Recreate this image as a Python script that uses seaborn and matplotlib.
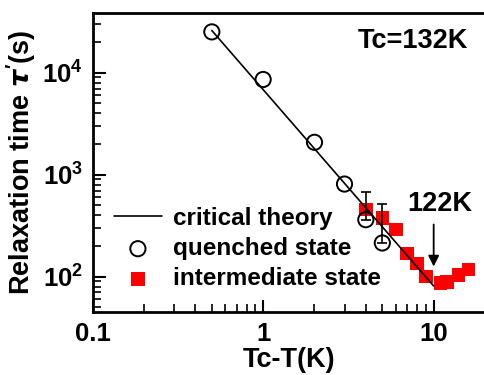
import matplotlib
matplotlib.use("Agg")
import matplotlib.pyplot as plt
import matplotlib.ticker as mticker
import seaborn as sns
import numpy as np

# data
theory_x = [0.5, 10]
theory_y = [26000, 81]

quenched_x = [0.5, 1, 2, 3, 4, 5]
quenched_y = [25200, 8600, 2080, 810, 362, 214]
# upper error bars only for the last two quenched points
err_x = [4, 5]
err_y = [362, 214]
err_up = [308, 306]
err_low = [0, 0]

inter_x = [4, 5, 6, 7, 8, 9, 11, 12, 14, 16]
inter_y = [454, 376, 289, 168, 135, 100, 87, 89, 104, 118]

sns.set_style("ticks", {'text.color': 'black', 'axes.labelcolor': 'black',
                        'xtick.color': 'black', 'ytick.color': 'black',
                        'axes.edgecolor': 'black'})
plt.rcParams['font.family'] = ['Liberation Sans', 'DejaVu Sans']
plt.rcParams['font.weight'] = 'bold'
plt.rcParams['mathtext.fontset'] = 'custom'
plt.rcParams['mathtext.bf'] = 'Liberation Sans:bold'
plt.rcParams['mathtext.rm'] = 'Liberation Sans:bold'

fig = plt.figure(figsize=(4.85, 3.75), dpi=100)
ax = fig.add_axes([0.191, 0.168, 0.809, 0.797])
ax.set_xscale('log')
ax.set_yscale('log')

sns.scatterplot(x=inter_x, y=inter_y, marker='s', s=95, color='#ff0000',
                edgecolor='none', ax=ax, zorder=2, label='intermediate state')
sns.lineplot(x=theory_x, y=theory_y, color='black', lw=1.2, ax=ax, zorder=3,
             label='critical theory')
ax.errorbar(err_x, err_y, yerr=[err_low, err_up], fmt='none', ecolor='black',
            elinewidth=1.2, capsize=3.5, capthick=1.2, zorder=3)
sns.scatterplot(x=quenched_x, y=quenched_y, marker='o', s=120,
                facecolor='none', edgecolor='black', linewidth=1.4, ax=ax,
                zorder=4, label='quenched state')

ax.set_xlim(0.1, 20)
ax.set_ylim(45, 38500)

ax.set_xticks([0.1, 1, 10], ['0.1', '1', '10'])
ax.set_yticks([100, 1000, 10000],
              [r'$\mathbf{10^2}$', r'$\mathbf{10^3}$', r'$\mathbf{10^4}$'])
ax.xaxis.set_minor_locator(mticker.LogLocator(base=10, subs=np.arange(2, 10)))
ax.yaxis.set_minor_locator(mticker.LogLocator(base=10, subs=np.arange(2, 10)))
ax.xaxis.set_minor_formatter(mticker.NullFormatter())
ax.yaxis.set_minor_formatter(mticker.NullFormatter())
ax.tick_params(which='major', direction='in', length=9, width=1.5,
               labelsize=18.5, pad=7, colors='black')
ax.tick_params(which='minor', direction='in', length=6, width=1.2,
               colors='black')

for sp in ['left', 'bottom', 'top']:
    ax.spines[sp].set_linewidth(2)
    ax.spines[sp].set_color('black')
ax.spines['right'].set_visible(False)

ax.set_xlabel('Tc-T(K)', fontsize=19.5, fontweight='bold', labelpad=1)
ax.set_ylabel(r"Relaxation time $\tau^{\prime}$(s)", fontsize=19.5,
              fontweight='bold', labelpad=3)

ax.text(0.957, 0.906, 'Tc=132K', transform=ax.transAxes, ha='right',
        va='center', fontsize=19.5, fontweight='bold')
ax.text(10.8, 520, '122K', ha='center', va='center', fontsize=19.5,
        fontweight='bold')
ax.annotate('', xy=(10, 118), xytext=(10, 346),
            arrowprops=dict(arrowstyle='-|>', color='black', lw=1.3,
                            mutation_scale=16))

handles, labels = ax.get_legend_handles_labels()
order = [labels.index(l) for l in ['critical theory', 'quenched state',
                                   'intermediate state']]
ax.legend([handles[i] for i in order], [labels[i] for i in order],
          loc='upper left', bbox_to_anchor=(0.055, 0.352), frameon=False,
          fontsize=17.5, handlelength=1.95, handletextpad=0.45,
          labelspacing=0.3, borderaxespad=0, borderpad=0)

fig.savefig('out.png', dpi=100)
